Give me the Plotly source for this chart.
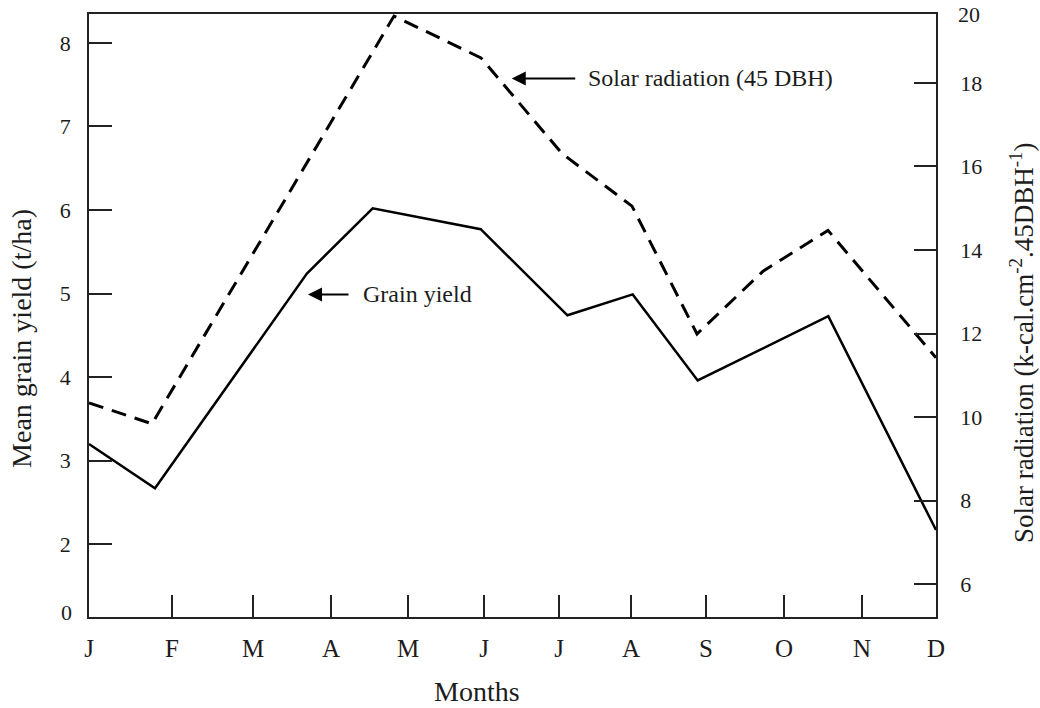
import plotly.graph_objects as go

# ---- data ----
month_labels = ["J", "F", "M", "A", "M", "J", "J", "A", "S", "O", "N", "D"]
month_ticks = [0, 1.078, 2.130, 3.143, 4.143, 5.130, 6.104, 7.039, 8.013, 9.026, 10.039, 11]

grain_x = [0, 0.857, 2.83, 3.684, 5.087, 6.214, 7.061, 7.905, 9.601, 11.0]
grain_yield = [3.20, 2.67, 5.24, 6.02, 5.77, 4.74, 4.99, 3.96, 4.73, 2.17]

solar_x = [0, 0.818, 3.961, 5.091, 6.143, 7.052, 7.896, 8.753, 9.597, 11.0]
solar_rad = [10.34, 9.84, 19.60, 18.60, 16.31, 15.05, 11.99, 13.49, 14.47, 11.42]

left_ticks = [2, 3, 4, 5, 6, 7, 8]
right_ticks = [6, 8, 10, 12, 14, 16, 18]

FONT = "Liberation Serif"
INK = "#1c1c1c"

fig = go.Figure()
fig.add_trace(go.Scatter(x=grain_x, y=grain_yield, mode="lines",
                         line=dict(color="black", width=2.5), yaxis="y",
                         name="Grain yield"))
fig.add_trace(go.Scatter(x=solar_x, y=solar_rad, mode="lines",
                         line=dict(color="black", width=3, dash="15px,9px"),
                         yaxis="y2", name="Solar radiation (45 DBH)"))

fig.update_layout(
    width=1040, height=708,
    margin=dict(l=89, r=104, t=12, b=91),
    paper_bgcolor="white", plot_bgcolor="white",
    showlegend=False,
    xaxis=dict(range=[0, 11], tickvals=month_ticks, ticktext=month_labels,
               ticks="inside", ticklen=22, tickwidth=1.5, tickcolor="#222",
               showline=True, linecolor="#222", linewidth=1.5, mirror=True,
               showgrid=False, zeroline=False,
               tickfont=dict(family=FONT, size=25, color=INK),
               ticklabelstandoff=8),
    yaxis=dict(range=[1.129, 8.346], tickvals=left_ticks,
               ticks="inside", ticklen=23, tickwidth=1.5, tickcolor="#222",
               showline=True, linecolor="#222", linewidth=1.5,
               showgrid=False, zeroline=False,
               tickfont=dict(family=FONT, size=22, color=INK),
               ticklabelstandoff=12),
    yaxis2=dict(range=[5.214, 19.65], tickvals=right_ticks, overlaying="y",
                side="right", ticks="inside", ticklen=22, tickwidth=1.5,
                tickcolor="#222", showline=True, linecolor="#222", linewidth=1.5,
                showgrid=False, zeroline=False,
                tickfont=dict(family=FONT, size=22, color=INK),
                ticklabelstandoff=18),
)

ann = []
# extra axis labels (broken-axis "0" and top "20")
ann.append(dict(text="0", xref="paper", yref="y", x=-0.0177, y=1.186,
                xanchor="right", yanchor="middle", showarrow=False,
                font=dict(family=FONT, size=22, color=INK)))
ann.append(dict(text="20", xref="paper", yref="paper", x=1.0236, y=1.0,
                xanchor="left", yanchor="middle", showarrow=False,
                font=dict(family=FONT, size=22, color=INK)))
# axis titles
ann.append(dict(text="Months", xref="paper", yref="paper",
                x=(477 - 89) / 847, y=(617 - 692) / 605,
                xanchor="center", yanchor="middle", showarrow=False,
                font=dict(family=FONT, size=28, color=INK)))
ann.append(dict(text="Mean grain yield (t/ha)", xref="paper", yref="paper",
                x=(22 - 89) / 847, y=(617 - 338) / 605, textangle=-90,
                xanchor="center", yanchor="middle", showarrow=False,
                font=dict(family=FONT, size=28, color=INK)))
ann.append(dict(text="Solar radiation (k-cal.cm<sup>-2</sup>.45DBH<sup>-1</sup>)",
                xref="paper", yref="paper",
                x=(1022 - 89) / 847, y=(617 - 342) / 605, textangle=-90,
                xanchor="center", yanchor="middle", showarrow=False,
                font=dict(family=FONT, size=27, color=INK)))
# arrow labels
ann.append(dict(text="", xref="x", yref="y", x=2.844, y=4.989,
                ax=42, ay=0, axref="pixel", ayref="pixel", showarrow=True,
                arrowhead=2, arrowsize=1.4, arrowwidth=2, arrowcolor="black"))
ann.append(dict(text="Grain yield", xref="x", yref="y", x=3.532, y=4.989,
                xanchor="left", yanchor="middle", showarrow=False,
                font=dict(family=FONT, size=24, color=INK)))
ann.append(dict(text="", xref="x", yref="y2", x=5.49, y=18.106,
                ax=65, ay=0, axref="pixel", ayref="pixel", showarrow=True,
                arrowhead=2, arrowsize=1.4, arrowwidth=2, arrowcolor="black"))
ann.append(dict(text="Solar radiation (45 DBH)", xref="x", yref="y2",
                x=6.455, y=18.106, xanchor="left", yanchor="middle",
                showarrow=False, font=dict(family=FONT, size=24, color=INK)))
fig.update_layout(annotations=ann)

fig.write_html("out.html")
